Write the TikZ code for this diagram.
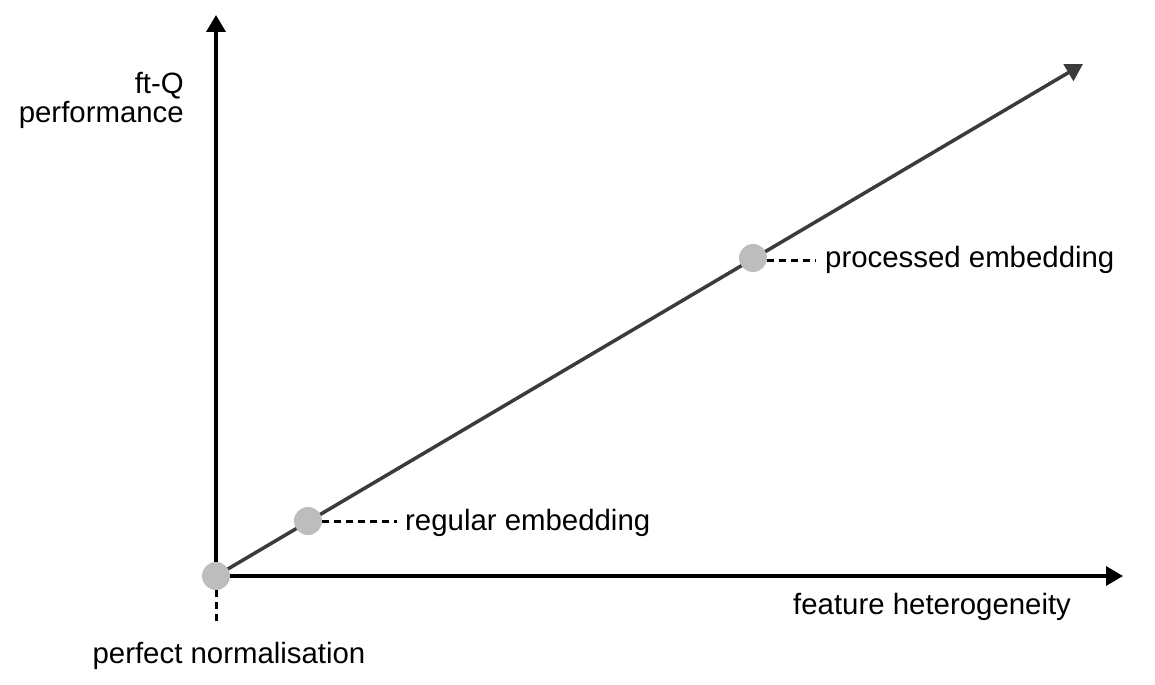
\documentclass[tikz,border=0pt]{standalone}
\usepackage{fontspec}
\setmainfont{Liberation Sans}
\usetikzlibrary{arrows.meta}
\definecolor{darkline}{HTML}{3B3B3B}
\definecolor{dotgray}{HTML}{BDBDBD}
\begin{document}
\begin{tikzpicture}[x=1bp,y=-1bp,
  axis/.style={line width=3.5bp, black, -{Triangle[length=17bp,width=19bp]}},
  diag/.style={line width=3.5bp, darkline, -{Triangle[length=17bp,width=19bp]}},
  dot/.style={circle, fill=dotgray, minimum size=28bp, inner sep=0pt},
  lbl/.style={font=\fontsize{29.5}{29}\selectfont, inner sep=0pt},
  leader/.style={line width=3bp, black, dash pattern=on 7bp off 5bp}]
\useasboundingbox (0,0) rectangle (1155,685);
% positions
\coordinate (o) at (216,576);
\coordinate (xend) at (1123,576);
\coordinate (yend) at (216,15);
\coordinate (dend) at (1083,64);
\coordinate (r) at (308,521);
\coordinate (p) at (753,258);
% axes and trend
\draw[axis] (o) -- (xend);
\draw[axis] (o) -- (yend);
\draw[diag] (o) -- (dend);
% dots
\node[dot] (odot) at (o) {};
\node[dot] (rdot) at (r) {};
\node[dot] (pdot) at (p) {};
% labels
\node[lbl, anchor=west] (rlab) at (405,523) {regular embedding};
\node[lbl, anchor=west] (plab) at (825,260) {processed embedding};
\node[lbl, anchor=west] (xlab) at (793,607) {feature heterogeneity};
\node[lbl, anchor=north] (olab) at (229,642) {perfect normalisation};
\node[lbl, anchor=east, align=right] (ylab) at (184,100) {ft-Q\\performance};
% leaders
\coordinate (rlend) at (397,521);
\coordinate (plend) at (816,260);
\coordinate (olend) at (216,626);
\draw[leader] (rdot.east) -- (rlend);
\draw[leader] (pdot.east |- plend) -- (plend);
\draw[leader] (odot.south) -- (olend);
\end{tikzpicture}
\end{document}
